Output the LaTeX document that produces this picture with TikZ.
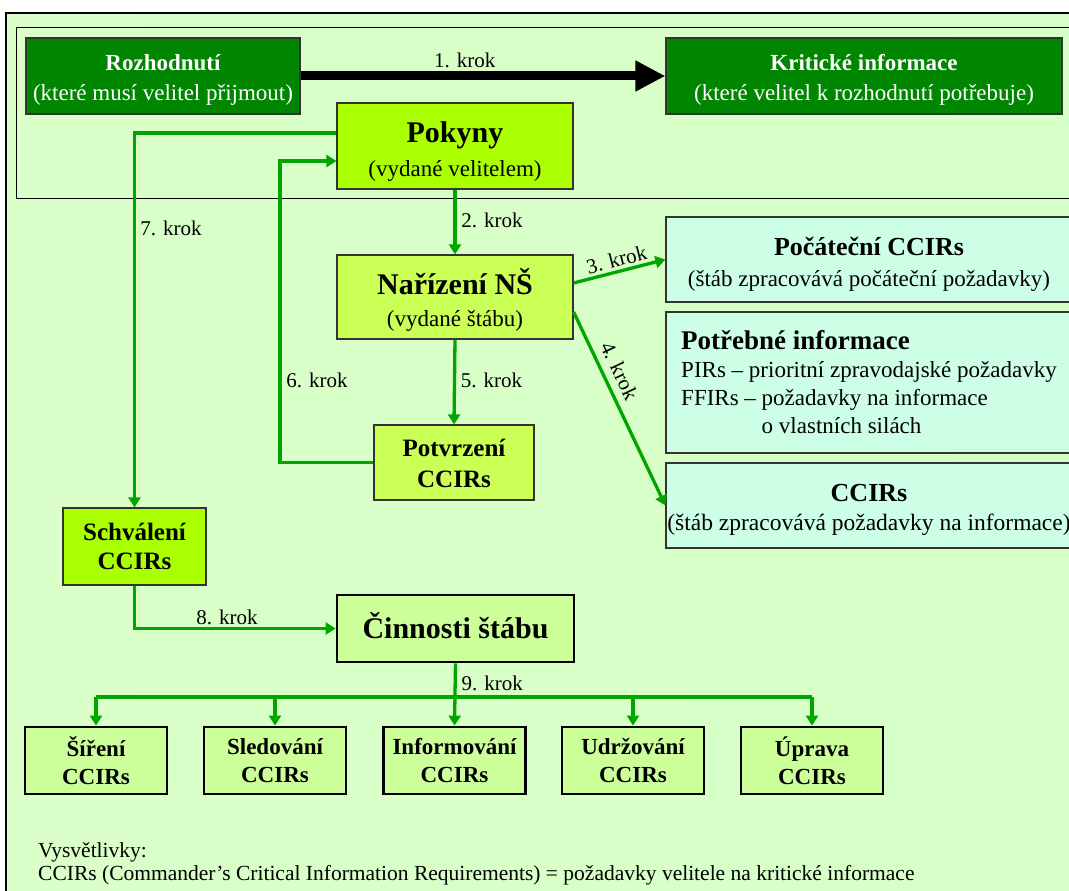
\documentclass[tikz,border=0pt]{standalone}
\usepackage{fontspec}
\setmainfont{Liberation Serif}
\usetikzlibrary{arrows.meta,calc}
\definecolor{gline}{RGB}{0,165,0}
\definecolor{dgreen}{RGB}{0,134,0}
\definecolor{lime}{RGB}{170,255,0}
\definecolor{ylime}{RGB}{202,255,85}
\definecolor{pgreen}{RGB}{204,255,153}
\definecolor{mint}{RGB}{204,255,230}
\definecolor{bgl}{RGB}{218,255,200}
\definecolor{bgm}{RGB}{255,255,204}
\definecolor{bgr}{RGB}{214,255,200}
\newcommand{\tstrut}[1]{\rule{0pt}{#1pt}}
\begin{document}
\begin{tikzpicture}[x=1pt,y=-1pt,
  every node/.style={inner sep=0pt, align=center},
  dbox/.style={draw=black!80, line width=1.2pt, fill=dgreen, text=white, font=\fontsize{23}{30}\selectfont},
  limebox/.style={draw=black!80, line width=1.2pt, fill=lime},
  ylbox/.style={draw=black!80, line width=1.2pt, fill=ylime},
  mintbox/.style={draw=black!80, line width=1.2pt, fill=mint},
  actbox/.style={draw=black, line width=2.8pt, fill=pgreen},
  garrow/.style={draw=gline, line width=3.3pt, -{Triangle[length=10pt,width=12pt]}},
  gln/.style={draw=gline, line width=3.3pt},
  kl/.style={font=\fontsize{21}{21}\selectfont, inner sep=0pt, text=black}
]
\useasboundingbox (0,0) rectangle (1069,891);
\clip (0,0) rectangle (1069,891);
\fill[white] (0,0) rectangle (1069,891);
% background frames
\shade[left color=bgl, middle color=bgm, right color=bgr] (6,13) rectangle (1090,900);
\draw[line width=1.5pt] (6,900) -- (6,13) -- (1090,13);
\draw[line width=1pt] (16,28) rectangle (1090,198);

% top boxes
\node[dbox, minimum width=274pt, minimum height=76pt] (roz) at (163,76)
  {\tstrut{23}{\bfseries Rozhodnutí}\\(které musí velitel přijmout)};
\node[dbox, minimum width=396pt, minimum height=76pt] (krit) at (864,76)
  {\tstrut{23}{\bfseries Kritické informace}\\(které velitel k rozhodnutí potřebuje)};

% main column
\node[limebox, minimum width=236pt, minimum height=86pt, font=\fontsize{23}{34}\selectfont] (pok) at (455,146)
  {\tstrut{31}{\fontsize{30}{34}\selectfont\bfseries Pokyny}\\(vydané velitelem)};
\node[ylbox, minimum width=236pt, minimum height=84pt, font=\fontsize{23}{32}\selectfont] (nar) at (455,297)
  {\tstrut{31}{\fontsize{30}{32}\selectfont\bfseries Nařízení NŠ}\\(vydané štábu)};
\node[ylbox, minimum width=160pt, minimum height=75pt, font=\fontsize{25}{31}\selectfont\bfseries] (potv) at (454,462.5)
  {\tstrut{20}Potvrzení\\CCIRs};
\node[limebox, minimum width=143pt, minimum height=77pt, font=\fontsize{25}{29}\selectfont\bfseries] (sch) at (134.5,546.5)
  {Schválení\\CCIRs};
\node[actbox, minimum width=237pt, minimum height=67pt, font=\fontsize{30}{32}\selectfont\bfseries] (cin) at (455.5,628.5)
  {\rule[-6pt]{0pt}{6pt}Činnosti štábu};

% right boxes
\node[mintbox, minimum width=406pt, minimum height=85pt, font=\fontsize{23}{31}\selectfont] (poc) at (869,259.5)
  {\tstrut{27}{\fontsize{26}{31}\selectfont\bfseries Počáteční CCIRs}\\(štáb zpracovává počáteční požadavky)};
\node[mintbox, minimum width=406pt, minimum height=141pt, align=left,
      font=\fontsize{23}{28}\selectfont] (potr) at (869,382.5)
  {{\fontsize{27}{28}\selectfont\bfseries Potřebné informace}\\
   PIRs – prioritní zpravodajské požadavky\\
   FFIRs – požadavky na informace\\
   \phantom{FFIRs – }o vlastních silách};
\node[mintbox, minimum width=406pt, minimum height=85pt, font=\fontsize{23.5}{29}\selectfont] (ccir) at (869,505.5)
  {\tstrut{26}{\fontsize{26}{29}\selectfont\bfseries CCIRs}\\(štáb zpracovává požadavky na informace)};

% bottom boxes
\foreach \n/\x/\t in {b1/96/Šíření, b2/275/Sledování, b3/454.5/Informování, b4/633/Udržování, b5/812/Úprava}{
  \node[actbox, minimum width=142pt, minimum height=67pt, font=\fontsize{23}{28}\selectfont\bfseries] (\n) at (\x,760.5)
    {\t\\CCIRs};
}

% connectors
\draw[line width=9pt, -{Triangle[length=30pt,width=29pt]}] (roz.east) -- (krit.west)
  node[kl, pos=0.45, yshift=16pt] {1. krok};
\draw[garrow] (pok.south) -- (nar.north) node[kl, midway, xshift=37pt, yshift=2pt] {2. krok};
\draw[garrow] ([yshift=14pt]nar.east) -- (poc.west)
  node[kl, midway, sloped, above=3pt] {3. krok};
\draw[garrow] ([yshift=-15pt]nar.east) -- (ccir.west)
  node[kl, pos=0.34, sloped, above=7pt] {4. krok};
\draw[garrow] (nar.south) -- (potv.north) node[kl, midway, xshift=37pt, yshift=2pt] {5. krok};
\draw[garrow] (potv.west) -| (280,161) node[kl, pos=0.637, xshift=37pt] {6. krok}
  -- ([yshift=-15pt]pok.west);
\draw[garrow] ([yshift=13pt]pok.west) -| (sch.north) node[kl, pos=0.627, xshift=36.5pt] {7. krok};
\draw[garrow] (sch.south) |- (cin.west) node[kl, pos=0.73, yshift=11.5pt] {8. krok};
\coordinate (bus) at (455.5,697);
\draw[garrow] (cin.south) -- (b3.north) node[kl, pos=0.32, xshift=37pt] {9. krok};
\draw[gln] (b1.north |- bus) -- (b5.north |- bus);
\foreach \n in {b1,b2,b4,b5}{
  \draw[garrow] (\n.north |- bus) -- (\n.north);
}

% legend
\node[kl, font=\fontsize{21.5}{21.5}\selectfont, anchor=west] (leg1) at (38,852) {Vysvětlivky:};
\node[kl, font=\fontsize{21.5}{21.5}\selectfont, anchor=west] (leg2) at (38,875)
  {CCIRs (Commander’s Critical Information Requirements) = požadavky velitele na kritické informace};
\end{tikzpicture}
\end{document}
